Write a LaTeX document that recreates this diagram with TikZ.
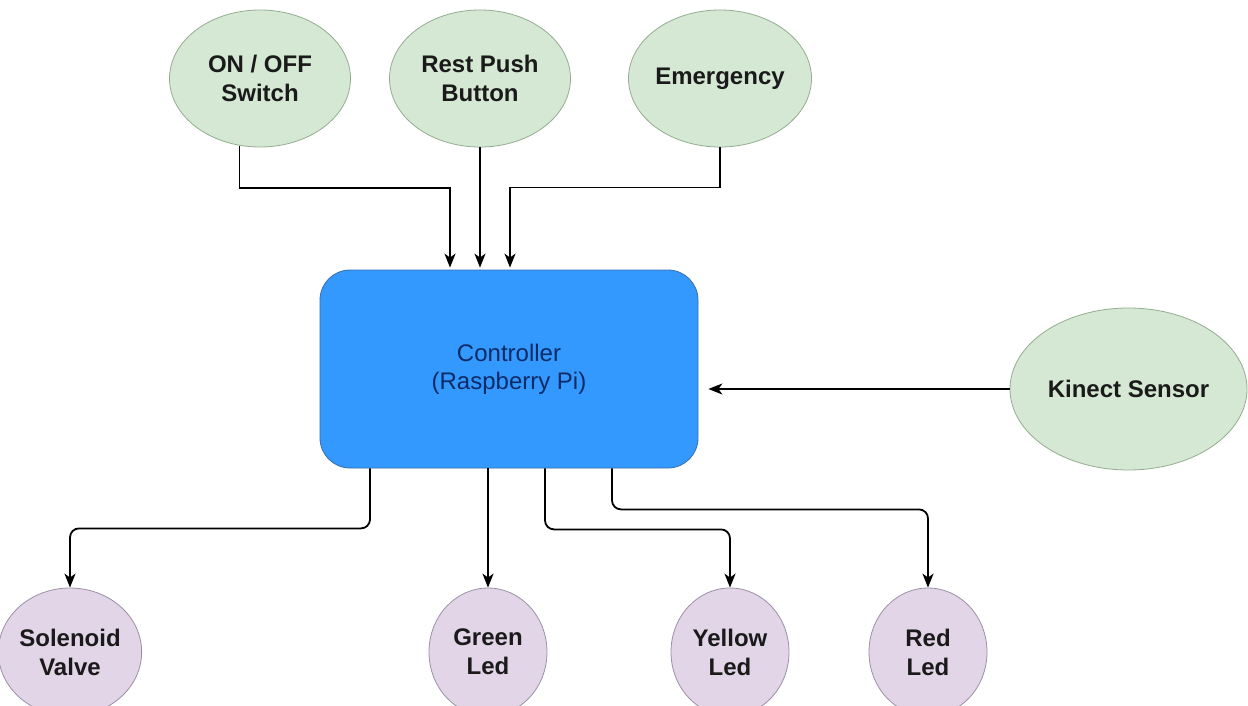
\documentclass[tikz,border=0pt]{standalone}
\usepackage{fontspec}
\setmainfont{Liberation Sans}
\usetikzlibrary{shapes.geometric,arrows.meta,calc}
\definecolor{gfill}{HTML}{D5E8D4}
\definecolor{gdraw}{HTML}{93AE8F}
\definecolor{pfill}{HTML}{E1D5E7}
\definecolor{pdraw}{HTML}{9C90A6}
\definecolor{bfill}{HTML}{3399FF}
\definecolor{bdraw}{HTML}{3A6EA8}
\definecolor{btext}{HTML}{0B2A66}
\definecolor{ltext}{HTML}{1A1A1A}
\tikzset{
  greenell/.style={ellipse, fill=gfill, draw=gdraw, line width=0.8pt, inner sep=0pt,
    align=center, text=ltext, font=\fontsize{24}{29}\selectfont\bfseries},
  purpleell/.style={ellipse, fill=pfill, draw=pdraw, line width=0.8pt, inner sep=0pt,
    align=center, text=ltext, font=\fontsize{24}{29}\selectfont\bfseries,
    minimum width=118pt, minimum height=128pt},
  ctrlbox/.style={rectangle, rounded corners=30pt, fill=bfill, draw=bdraw, line width=0.8pt,
    align=center, text=btext, font=\fontsize{24}{28}\selectfont,
    minimum width=378pt, minimum height=198pt},
  conn/.style={line width=1.8pt, black, -{Stealth[length=14pt,width=11pt,inset=4pt]}},
  elbowconn/.style={conn, rounded corners=9pt}
}
\begin{document}
\begin{tikzpicture}[x=1pt,y=-1pt]
\clip (0,0) rectangle (1248,706);
\fill[white] (0,0) rectangle (1248,706);

% top inputs
\node[greenell, minimum width=181pt, minimum height=137pt] (onoff) at (260,78.5) {ON / OFF\\Switch};
\node[greenell, minimum width=181pt, minimum height=137pt] (rest) at (480,78.5) {Rest Push\\Button};
\node[greenell, minimum width=181pt, minimum height=137pt] (emerg) at (720,78.5) {Emergency};

% controller
\node[ctrlbox] (ctrl) at (509,369) {Controller\\(Raspberry Pi)};

% kinect
\node[greenell, minimum width=237pt, minimum height=162pt] (kinect) at (1128.5,389) {Kinect Sensor};

% outputs
\node[purpleell] (sol) at (70,652) {Solenoid\\Valve};
\node[purpleell] (green) at (488,652) {Green\\Led};
\node[purpleell] (yellow) at (730,652) {Yellow\\Led};
\node[purpleell] (red) at (928,652) {Red\\Led};

% inputs to controller
\coordinate (tA) at ($(ctrl.north)+(-59,-2)$);
\coordinate (tB) at ($(ctrl.north -| rest.south)+(0,-2)$);
\coordinate (tC) at ($(ctrl.north)+(1,-2)$);
\draw[conn] (onoff.253) -- ++(0,42) -| (tA);
\draw[conn] (rest.south) -- (tB);
\draw[conn] (emerg.south) -- ++(0,40) -| (tC);

\draw[conn, shorten >=10pt] (kinect.west) -- (kinect.west -| ctrl.east);

% controller to outputs
\coordinate (bA) at ($(ctrl.south)+(-139,0)$);
\coordinate (bC) at ($(ctrl.south)+(36,0)$);
\coordinate (bD) at ($(ctrl.south)+(103,0)$);
\draw[elbowconn] (bA) -- ++(0,60) -| (sol.north);
\draw[conn] (ctrl.south -| green.north) -- (green.north);
\draw[elbowconn] (bC) -- ++(0,61) -| (yellow.north);
\draw[elbowconn] (bD) -- ++(0,41) -| (red.north);
\end{tikzpicture}
\end{document}
